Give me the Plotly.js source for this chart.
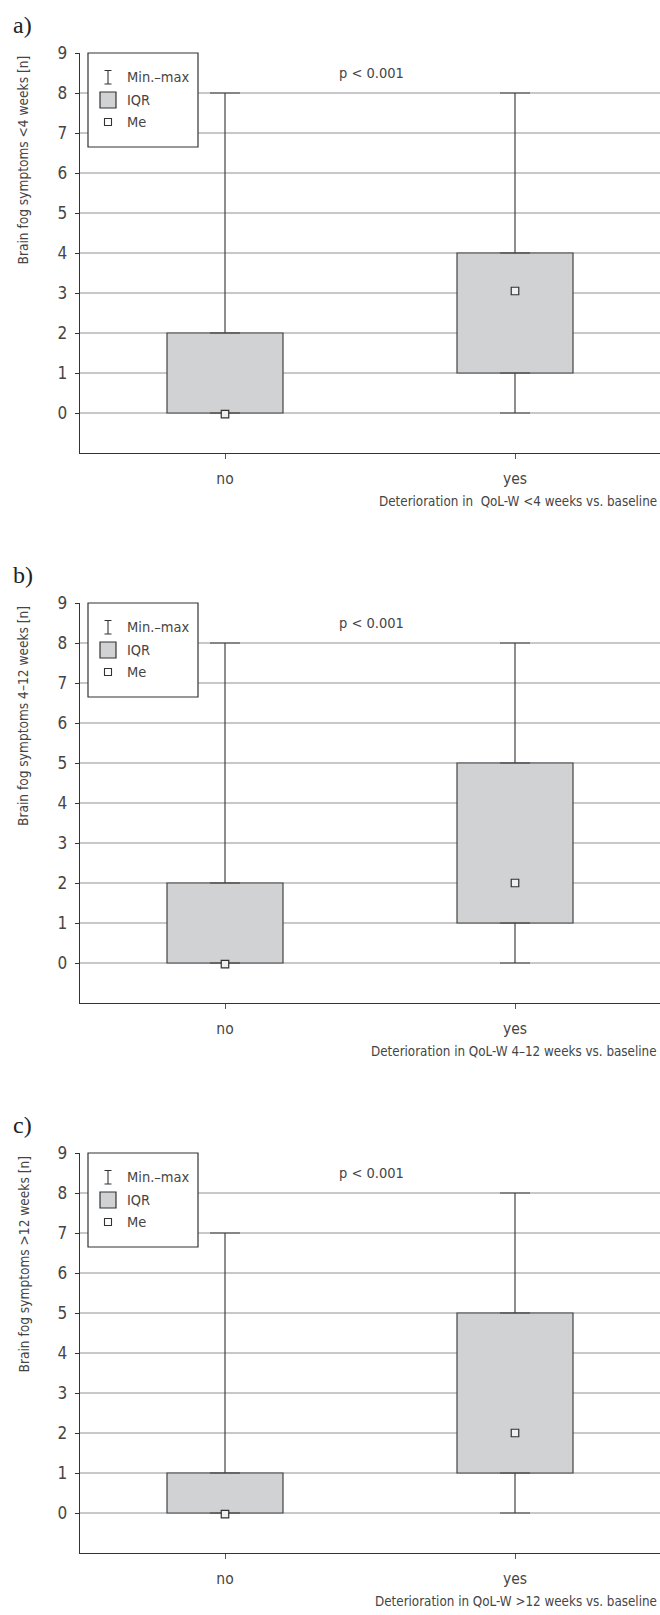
<!DOCTYPE html>
<html><head><meta charset="utf-8">
<script src="https://cdn.plot.ly/plotly-3.0.1.min.js"></script>
<style>html,body{margin:0;padding:0;background:#fff}#chart{width:660px;height:1615px}</style>
</head><body><div id="chart"></div>
<script>
// ---- data ----
const categories = ['no', 'yes'];
const aMin = [0, 0], aQ1 = [0, 1], aMedian = [-0.03, 3.05], aQ3 = [2, 4], aMax = [8, 8];
const bMin = [0, 0], bQ1 = [0, 1], bMedian = [-0.03, 2], bQ3 = [2, 5], bMax = [8, 8];
const cMin = [0, 0], cQ1 = [0, 1], cMedian = [-0.03, 2], cQ3 = [1, 5], cMax = [7, 8];
const yTickVals = [0, 1, 2, 3, 4, 5, 6, 7, 8, 9];
const panelLabels = ['a)', 'b)', 'c)'];
const yTitles = ['Brain fog symptoms &lt;4 weeks [n]', 'Brain fog symptoms 4–12 weeks [n]', 'Brain fog symptoms &gt;12 weeks [n]'];
const xTitles = ['Deterioration in\u00a0 QoL-W &lt;4 weeks vs. baseline', 'Deterioration in QoL-W 4–12 weeks vs. baseline', 'Deterioration in QoL-W &gt;12 weeks vs. baseline'];
const pValues = ['p &lt; 0.001', 'p &lt; 0.001', 'p &lt; 0.001'];
const legendLabels = ['Min.–max', 'IQR', 'Me'];

// ---- styling / layout ----
const W = 660, H = 1615;
const FONT = "'Liberation Sans Narrow', 'DejaVu Sans Condensed', 'Roboto Condensed', Roboto, sans-serif";
const SERIF = "'Liberation Serif', 'DejaVu Serif', serif";
const TXT = '#454545', DARK = '#333333', BOXFILL = '#d1d2d4';
const offsets = [0, 550, 1100];
const px = v => v / W;
const py = v => 1 - v / H;

const panels = [
  {mn: aMin, q1: aQ1, med: aMedian, q3: aQ3, mx: aMax},
  {mn: bMin, q1: bQ1, med: bMedian, q3: bQ3, mx: bMax},
  {mn: cMin, q1: cQ1, med: cMedian, q3: cQ3, mx: cMax}
];

const data = [];
const layout = {
  width: W, height: H, margin: {l: 0, r: 0, t: 0, b: 0},
  paper_bgcolor: '#fff', plot_bgcolor: 'rgba(0,0,0,0)',
  showlegend: false, font: {family: FONT, color: TXT, size: 15},
  annotations: [], shapes: []
};

panels.forEach((p, i) => {
  const sfx = i ? String(i + 1) : '';
  const xa = 'x' + sfx, ya = 'y' + sfx;
  const off = offsets[i];
  // IQR box
  data.push({type: 'bar', x: categories, base: p.q1, y: p.q3.map((v, k) => v - p.q1[k]), width: 0.4,
    marker: {color: BOXFILL, line: {color: '#444', width: 1.2}}, xaxis: xa, yaxis: ya, hoverinfo: 'skip'});
  // upper whisker
  data.push({type: 'scatter', mode: 'markers', x: categories, y: p.q3, marker: {size: 1, color: 'rgba(0,0,0,0)'},
    error_y: {type: 'data', symmetric: false, array: p.mx.map((v, k) => v - p.q3[k]), arrayminus: p.q3.map(() => 0),
      width: 15, thickness: 1.2, color: '#444'}, xaxis: xa, yaxis: ya, hoverinfo: 'skip'});
  // lower whisker
  data.push({type: 'scatter', mode: 'markers', x: categories, y: p.q1, marker: {size: 1, color: 'rgba(0,0,0,0)'},
    error_y: {type: 'data', symmetric: false, array: p.q1.map(() => 0), arrayminus: p.q1.map((v, k) => v - p.mn[k]),
      width: 15, thickness: 1.2, color: '#444'}, xaxis: xa, yaxis: ya, hoverinfo: 'skip'});
  // median
  data.push({type: 'scatter', mode: 'markers', x: categories, y: p.med,
    marker: {symbol: 'square', size: 7.5, color: '#f0f0f0', line: {color: DARK, width: 1.2}}, xaxis: xa, yaxis: ya, hoverinfo: 'skip'});

  layout['xaxis' + sfx] = {domain: [px(80), 1], anchor: ya, type: 'category', range: [-0.5, 1.5],
    showline: true, linecolor: DARK, linewidth: 1.3, ticks: 'outside', ticklen: 5, tickcolor: '#555', tickwidth: 1,
    tickfont: {family: FONT, size: 15.5, color: TXT}, ticklabelstandoff: 6, showgrid: false, zeroline: false, fixedrange: true};
  layout['yaxis' + sfx] = {domain: [py(453 + off), py(53 + off)], anchor: xa, range: [-1, 9], tickvals: yTickVals,
    showline: true, linecolor: DARK, linewidth: 1.3, ticks: 'outside', ticklen: 4, tickcolor: DARK, tickwidth: 1,
    showgrid: true, gridcolor: '#c8c8c8', gridwidth: 1.2, zeroline: false,
    tickfont: {family: FONT, size: 17, color: TXT}, ticklabelstandoff: 4, fixedrange: true};

  const ann = (text, x, y, opts) => layout.annotations.push(Object.assign({text, x: px(x), y: py(y), xref: 'paper', yref: 'paper',
    showarrow: false, font: {family: FONT, size: 14.5, color: TXT}}, opts));
  ann(panelLabels[i], 11, 25 + off, {xanchor: 'left', yanchor: 'middle', font: {family: SERIF, size: 24, color: '#222'}});
  ann(pValues[i], 337, 73 + off, {xanchor: 'left', yanchor: 'middle'});
  ann(xTitles[i], 659, 501 + off, {xanchor: 'right', yanchor: 'middle', font: {family: FONT, size: 13.3, color: TXT}});
  ann(yTitles[i], 23, 54 + off, {xanchor: 'center', yanchor: 'top', textangle: -90, font: {family: FONT, size: 13.6, color: TXT}});
  // legend
  layout.shapes.push({type: 'rect', xref: 'paper', yref: 'paper', x0: px(88), x1: px(198), y0: py(53 + off), y1: py(147 + off),
    line: {color: DARK, width: 1.2}, fillcolor: '#fff', layer: 'above'});
  layout.shapes.push({type: 'path', xref: 'paper', yref: 'paper',
    path: `M${px(104.5)},${py(70.5 + off)} L${px(111.5)},${py(70.5 + off)} M${px(108)},${py(70.5 + off)} L${px(108)},${py(84 + off)} M${px(104.5)},${py(84 + off)} L${px(111.5)},${py(84 + off)}`,
    line: {color: DARK, width: 1.1}, layer: 'above'});
  layout.shapes.push({type: 'rect', xref: 'paper', yref: 'paper', x0: px(100), x1: px(116), y0: py(92 + off), y1: py(108 + off),
    line: {color: DARK, width: 1.2}, fillcolor: BOXFILL, layer: 'above'});
  layout.shapes.push({type: 'rect', xref: 'paper', yref: 'paper', x0: px(104.5), x1: px(111.5), y0: py(118.5 + off), y1: py(125.5 + off),
    line: {color: DARK, width: 1.1}, fillcolor: '#fff', layer: 'above'});
  ann(legendLabels[0], 125, 77 + off, {xanchor: 'left', yanchor: 'middle'});
  ann(legendLabels[1], 125, 100 + off, {xanchor: 'left', yanchor: 'middle'});
  ann(legendLabels[2], 125, 122 + off, {xanchor: 'left', yanchor: 'middle'});
});

Plotly.newPlot('chart', data, layout, {staticPlot: true, displayModeBar: false});
</script>
</body></html>
